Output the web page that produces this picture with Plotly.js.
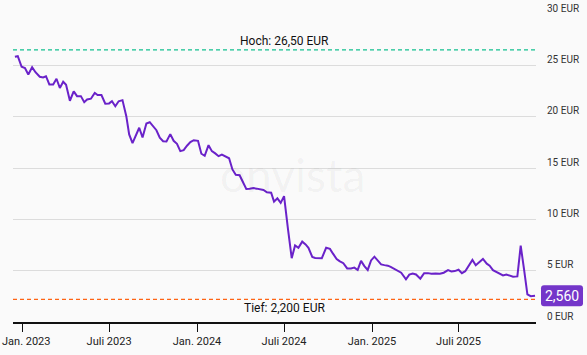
<!DOCTYPE html>
<html>
<head>
<meta charset="utf-8">
<script src="https://cdn.plot.ly/plotly-3.0.1.min.js"></script>
<style>
html,body{margin:0;padding:0;background:#fafafa;}
#chart{width:587px;height:355px;}
</style>
</head>
<body>
<div id="chart"></div>
<script>
const dates = [
'2022-12-16','2022-12-22','2022-12-30','2023-01-06','2023-01-13','2023-01-21','2023-01-28','2023-02-06','2023-02-13','2023-02-19',
'2023-02-26','2023-03-06','2023-03-13','2023-03-20','2023-03-27','2023-04-02','2023-04-10','2023-04-18','2023-04-25','2023-05-03',
'2023-05-10','2023-05-16','2023-05-24','2023-06-01','2023-06-07','2023-06-15','2023-06-23','2023-07-01','2023-07-07','2023-07-14',
'2023-07-21','2023-07-29','2023-08-06','2023-08-12','2023-08-19','2023-08-27','2023-09-02','2023-09-09','2023-09-17','2023-09-24',
'2023-10-01','2023-10-08','2023-10-15','2023-10-22','2023-10-29','2023-11-06','2023-11-13','2023-11-20','2023-11-27','2023-12-04',
'2023-12-11','2023-12-18','2023-12-25','2024-01-03','2024-01-10','2024-01-17','2024-01-25','2024-02-01','2024-02-08','2024-02-15',
'2024-02-22','2024-02-29','2024-03-08','2024-03-15','2024-03-22','2024-03-30','2024-04-06','2024-04-13','2024-04-20','2024-04-28',
'2024-05-05','2024-05-12','2024-05-19','2024-05-26','2024-06-04','2024-06-10','2024-06-17','2024-06-24','2024-07-01','2024-07-09',
'2024-07-17','2024-07-24','2024-07-31','2024-08-08','2024-08-15','2024-08-21','2024-08-29','2024-09-04','2024-09-11','2024-09-18',
'2024-09-27','2024-10-05','2024-10-11','2024-10-19','2024-10-25','2024-11-02','2024-11-10','2024-11-18','2024-11-25','2024-12-02',
'2024-12-09','2024-12-16','2024-12-23','2024-12-30','2025-01-06','2025-01-13','2025-01-20','2025-01-27','2025-02-03','2025-02-09',
'2025-02-16','2025-02-23','2025-03-03','2025-03-13','2025-03-20','2025-03-27','2025-04-03','2025-04-12','2025-04-20','2025-04-28',
'2025-05-05','2025-05-14','2025-05-23','2025-05-31','2025-06-09','2025-06-16','2025-06-23','2025-07-01','2025-07-08','2025-07-15',
'2025-07-22','2025-07-30','2025-08-06','2025-08-13','2025-08-21','2025-08-29','2025-09-04','2025-09-11','2025-09-18','2025-09-25',
'2025-10-02','2025-10-09','2025-10-16','2025-10-23','2025-11-01','2025-11-08','2025-11-15','2025-11-22','2025-11-29','2025-12-08'
];
const prices = [
25.83,25.89,24.86,24.74,24.11,24.82,24.33,23.89,23.82,23.94,
23.14,23.14,23.69,22.79,23.40,23.11,21.55,22.47,22.00,22.00,
21.41,21.67,21.75,22.31,22.11,22.11,21.26,21.29,21.50,21.02,
21.50,21.61,20.05,18.27,17.42,18.24,18.92,17.97,19.34,19.46,
19.02,18.68,17.95,17.61,17.59,18.30,17.65,17.36,16.64,16.74,
17.17,17.52,17.71,17.65,16.39,16.19,17.22,16.64,16.42,16.15,
16.30,16.12,15.95,14.86,14.34,14.29,13.61,12.96,12.98,13.04,
12.99,12.91,12.86,12.64,12.59,11.72,12.05,11.60,12.26,9.11,
6.21,7.46,7.23,7.83,7.56,7.23,6.34,6.24,6.19,6.21,
7.23,7.12,6.68,6.14,5.93,5.73,5.22,5.22,5.30,5.07,
5.95,5.44,5.07,6.00,6.36,6.00,5.61,5.54,5.49,5.37,
5.20,5.00,4.80,4.15,4.61,4.73,4.63,4.22,4.76,4.76,
4.70,4.73,4.70,4.80,5.05,4.93,4.96,5.09,4.76,4.95,
5.44,6.05,5.53,5.80,6.14,5.68,5.49,5.05,4.90,4.76,
4.54,4.63,4.51,4.41,4.44,7.43,5.12,2.69,2.52,2.560
];
const xTickVals = ['2023-01-01','2023-07-01','2024-01-01','2024-07-01','2025-01-01','2025-07-01'];
const xTickText = ['Jan. 2023','Juli 2023','Jan. 2024','Juli 2024','Jan. 2025','Juli 2025'];
const yTickVals = [0,5,10,15,20,25,30];
const yTickText = ['0 EUR','5 EUR','10 EUR','15 EUR','20 EUR','25 EUR','30 EUR'];
const hochWert = 26.50;
const tiefWert = 2.200;
const hochText = 'Hoch: 26,50 EUR';
const tiefText = 'Tief: 2,200 EUR';

const lastPrice = prices[prices.length-1];
const lastText = lastPrice.toFixed(3).replace('.', ',');
const FONT = 'Roboto, "Liberation Sans", sans-serif';

// first x label is clamped inside the page (as in the original), drawn as an annotation
const axisTickText = xTickText.map((t, i) => i === 0 ? '' : t);

const trace = {
  x: dates, y: prices, type: 'scatter', mode: 'lines',
  line: {color: '#6a22c9', width: 2},
  hoverinfo: 'skip'
};

const layout = {
  width: 587, height: 355,
  margin: {l: 13, r: 51, t: 14, b: 33},
  paper_bgcolor: '#fafafa', plot_bgcolor: '#fafafa',
  showlegend: false,
  font: {family: FONT, color: '#222'},
  xaxis: {
    type: 'date', range: ['2022-12-12','2025-12-10'],
    showgrid: false, zeroline: false,
    showline: true, linecolor: '#111', linewidth: 1.5,
    ticks: 'outside', ticklen: 8, tickwidth: 1, tickcolor: '#111',
    tickvals: xTickVals, ticktext: axisTickText,
    tickfont: {family: FONT, size: 11, color: '#222'},
    fixedrange: true
  },
  yaxis: {
    side: 'right', range: [0, 30],
    tickvals: yTickVals, ticktext: yTickText,
    showgrid: true, gridcolor: '#dcdcdc', gridwidth: 1,
    zeroline: false, showline: false, ticks: '',
    tickfont: {family: FONT, size: 10, color: '#333'},
    ticklabelstandoff: 10, ticklabelshift: -6,
    ticklabeloverflow: 'allow',
    fixedrange: true
  },
  shapes: [
    {type: 'line', xref: 'paper', x0: 0, x1: 1, yref: 'y', y0: hochWert, y1: hochWert,
     line: {color: '#12c08f', width: 1.3, dash: '4px,3px'}},
    {type: 'line', xref: 'paper', x0: 0, x1: 1, yref: 'y', y0: tiefWert, y1: tiefWert,
     line: {color: '#ff6414', width: 1.4, dash: '4px,3px'}},
    {type: 'path', xref: 'paper', xsizemode: 'pixel', xanchor: 1,
     yref: 'y', ysizemode: 'pixel', yanchor: lastPrice,
     path: 'M 8,-10.5 L 44,-10.5 Q 47,-10.5 47,-7.5 L 47,7.5 Q 47,10.5 44,10.5 L 8,10.5 Q 5,10.5 5,7.5 L 5,-7.5 Q 5,-10.5 8,-10.5 Z',
     fillcolor: '#7436c9', line: {width: 0}, layer: 'above'}
  ],
  annotations: [
    {text: 'onvista', xref: 'paper', yref: 'paper', x: 0.535, y: 0.48,
     showarrow: false, font: {family: 'Lato, ' + FONT, size: 46, color: 'rgba(0,0,0,0.045)'}},
    {text: hochText, xref: 'paper', x: 0.52, yref: 'y', y: hochWert, yanchor: 'bottom', yshift: 0,
     showarrow: false, font: {family: FONT, size: 12, color: '#111'}},
    {text: tiefText, xref: 'paper', x: 0.52, yref: 'y', y: tiefWert, yanchor: 'top', yshift: 0,
     showarrow: false, font: {family: FONT, size: 12, color: '#111'}},
    {text: lastText, xref: 'paper', x: 1, xshift: 26, xanchor: 'center', yref: 'y', y: lastPrice,
     showarrow: false, font: {family: FONT, size: 14, color: '#ffffff'}},
    {text: xTickText[0], xref: 'x', x: xTickVals[0], xanchor: 'center', xshift: 4,
     yref: 'paper', y: 0, yanchor: 'top', yshift: -11,
     showarrow: false, font: {family: FONT, size: 11, color: '#222'}}
  ]
};

Plotly.newPlot('chart', [trace], layout, {displayModeBar: false, staticPlot: true});
</script>
</body>
</html>
